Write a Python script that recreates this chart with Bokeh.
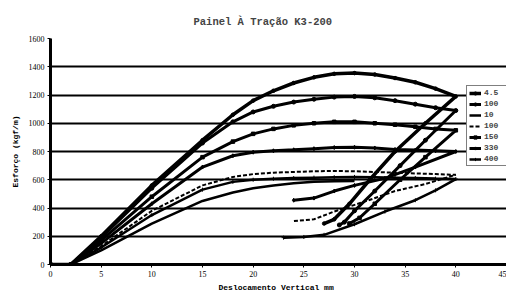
from bokeh.plotting import figure
from bokeh.models import Legend, LegendItem, FixedTicker, Range1d
from bokeh.embed import file_html
from bokeh.resources import INLINE

# ---- data ----
x_ticks = [0, 5, 10, 15, 20, 25, 30, 35, 40, 45]
y_ticks = [0, 200, 400, 600, 800, 1000, 1200, 1400, 1600]
grid_ticks = [200, 400, 600, 800, 1000, 1200, 1400]

labels = ["4.5", "100", "10", "100", "150", "330", "400"]

s1_x = [0, 2, 5, 10, 15, 18, 20, 22, 24, 26, 28, 30, 32, 34, 36, 38, 40, 37, 34, 31.5, 29.5, 28, 27]
s1_y = [0, 0, 200, 560, 880, 1060, 1160, 1230, 1285, 1325, 1350, 1355, 1345, 1320, 1290, 1245, 1190, 1000, 800, 600, 430, 320, 290]

s2_x = [0, 2, 5, 10, 15, 18, 20, 22, 24, 26, 28, 30, 32, 34, 36, 38, 40, 37, 34.5, 32, 30, 29, 28.5]
s2_y = [0, 0, 190, 540, 860, 1010, 1080, 1120, 1150, 1170, 1185, 1190, 1180, 1160, 1135, 1110, 1090, 880, 700, 520, 380, 300, 280]

s3_x = [0, 2, 5, 10, 15, 18, 20, 22, 24, 26, 28, 30, 32, 34, 36, 38, 40, 37, 34.5, 32, 30.5, 29.5]
s3_y = [0, 0, 170, 480, 760, 870, 925, 960, 985, 1000, 1010, 1010, 1000, 990, 975, 960, 950, 760, 600, 430, 330, 290]

s4_x = [0, 2, 5, 10, 15, 18, 20, 22, 24, 26, 28, 30, 32, 34, 36, 38, 40, 36, 33, 30, 28, 26, 24]
s4_y = [0, 0, 150, 430, 690, 770, 795, 805, 812, 820, 828, 830, 825, 815, 810, 805, 800, 690, 610, 560, 520, 470, 455]

s5_x = [0, 2, 5, 10, 15, 18, 20, 22, 24, 26, 28, 30, 32, 34, 36, 38, 40, 37, 34, 31, 28, 26, 24]
s5_y = [0, 0, 130, 380, 560, 620, 640, 650, 655, 660, 662, 660, 655, 650, 645, 640, 635, 570, 520, 445, 375, 320, 307]

s6_x = [0, 2, 5, 10, 15, 18, 20, 22, 24, 26, 28, 30, 32, 34, 36, 38, 40, 38, 36, 33, 30, 27, 25, 23]
s6_y = [0, 0, 120, 350, 530, 585, 600, 607, 612, 615, 618, 620, 618, 615, 612, 608, 605, 525, 455, 375, 285, 210, 195, 190]

s7_x = [0, 2, 5, 10, 15, 18, 20, 22, 24, 26, 28, 30]
s7_y = [0, 0, 100, 290, 450, 510, 540, 560, 575, 585, 590, 592]

# ---- figure ----
p = figure(width=506, height=294, output_backend="svg", toolbar_location=None,
           x_range=Range1d(0, 45), y_range=Range1d(0, 1600),
           min_border_left=50, min_border_right=0, min_border_top=38, min_border_bottom=27)
p.outline_line_color = None
p.background_fill_color = "white"

p.title.text = "Painel À Tração  K3-200"
p.title.text_font = "Liberation Mono"
p.title.text_font_style = "bold"
p.title.text_font_size = "10.5px"
p.title.align = "left"
p.title.offset = 143
p.title.standoff = 22

p.xaxis.ticker = FixedTicker(ticks=x_ticks)
p.yaxis.ticker = FixedTicker(ticks=y_ticks)
for ax in (p.xaxis, p.yaxis):
    ax.axis_line_width = 3
    ax.axis_line_color = "black"
    ax.major_tick_line_color = "black"
    ax.major_tick_line_width = 1
    ax.major_tick_out = 3
    ax.major_tick_in = 0
    ax.minor_tick_line_color = None
    ax.major_label_text_font = "Liberation Serif"
    ax.major_label_text_font_size = "8px"
    ax.major_label_text_color = "black"
    ax.major_label_standoff = 3
    ax.axis_label_text_font = "Liberation Mono"
    ax.axis_label_text_font_style = "bold"
    ax.axis_label_text_color = "black"

p.xaxis.axis_label = "Deslocamento Vertical  mm"
p.xaxis.axis_label_text_font_size = "8px"
p.xaxis.axis_label_standoff = 3
p.yaxis.axis_label = "Esforço (kgf/m)"
p.yaxis.axis_label_text_font_size = "8px"
p.yaxis.axis_label_standoff = 6

p.xgrid.visible = False
p.ygrid.ticker = FixedTicker(ticks=grid_ticks)
p.ygrid.grid_line_color = "black"
p.ygrid.grid_line_width = 2

items = []

r = p.line(s1_x, s1_y, line_color="black", line_width=3.5)
m = p.scatter(s1_x, s1_y, marker="circle", size=3.5, color="black")
items.append(LegendItem(label=labels[0], renderers=[r, m]))

r = p.line(s2_x, s2_y, line_color="black", line_width=3)
m = p.scatter(s2_x, s2_y, marker="circle", size=4, color="black")
items.append(LegendItem(label=labels[1], renderers=[r, m]))

r = p.line(s7_x, s7_y, line_color="black", line_width=2.5)
items.append(LegendItem(label=labels[2], renderers=[r]))

r = p.line(s5_x, s5_y, line_color="black", line_width=2, line_dash="4 2")
items.append(LegendItem(label=labels[3], renderers=[r]))

r = p.line(s3_x, s3_y, line_color="black", line_width=3)
m = p.scatter(s3_x, s3_y, marker="square", size=3.5, color="black")
items.append(LegendItem(label=labels[4], renderers=[r, m]))

r = p.line(s4_x, s4_y, line_color="black", line_width=3)
m = p.scatter(s4_x, s4_y, marker="diamond", size=4, color="black")
items.append(LegendItem(label=labels[5], renderers=[r, m]))

r = p.line(s6_x, s6_y, line_color="black", line_width=2.5)
m = p.scatter(s6_x, s6_y, marker="cross", size=4, color="black")
items.append(LegendItem(label=labels[6], renderers=[r, m]))

legend = Legend(items=items, location=(416, 98))
legend.label_text_font = "Liberation Mono"
legend.label_text_font_style = "bold"
legend.label_text_font_size = "8px"
legend.glyph_width = 12
legend.glyph_height = 8
legend.label_height = 8
legend.spacing = 2
legend.padding = 2
legend.margin = 0
legend.label_standoff = 3
legend.border_line_color = "black"
legend.border_line_width = 1
legend.background_fill_alpha = 1
p.add_layout(legend)

open("out.html", "w").write(file_html(p, INLINE))
